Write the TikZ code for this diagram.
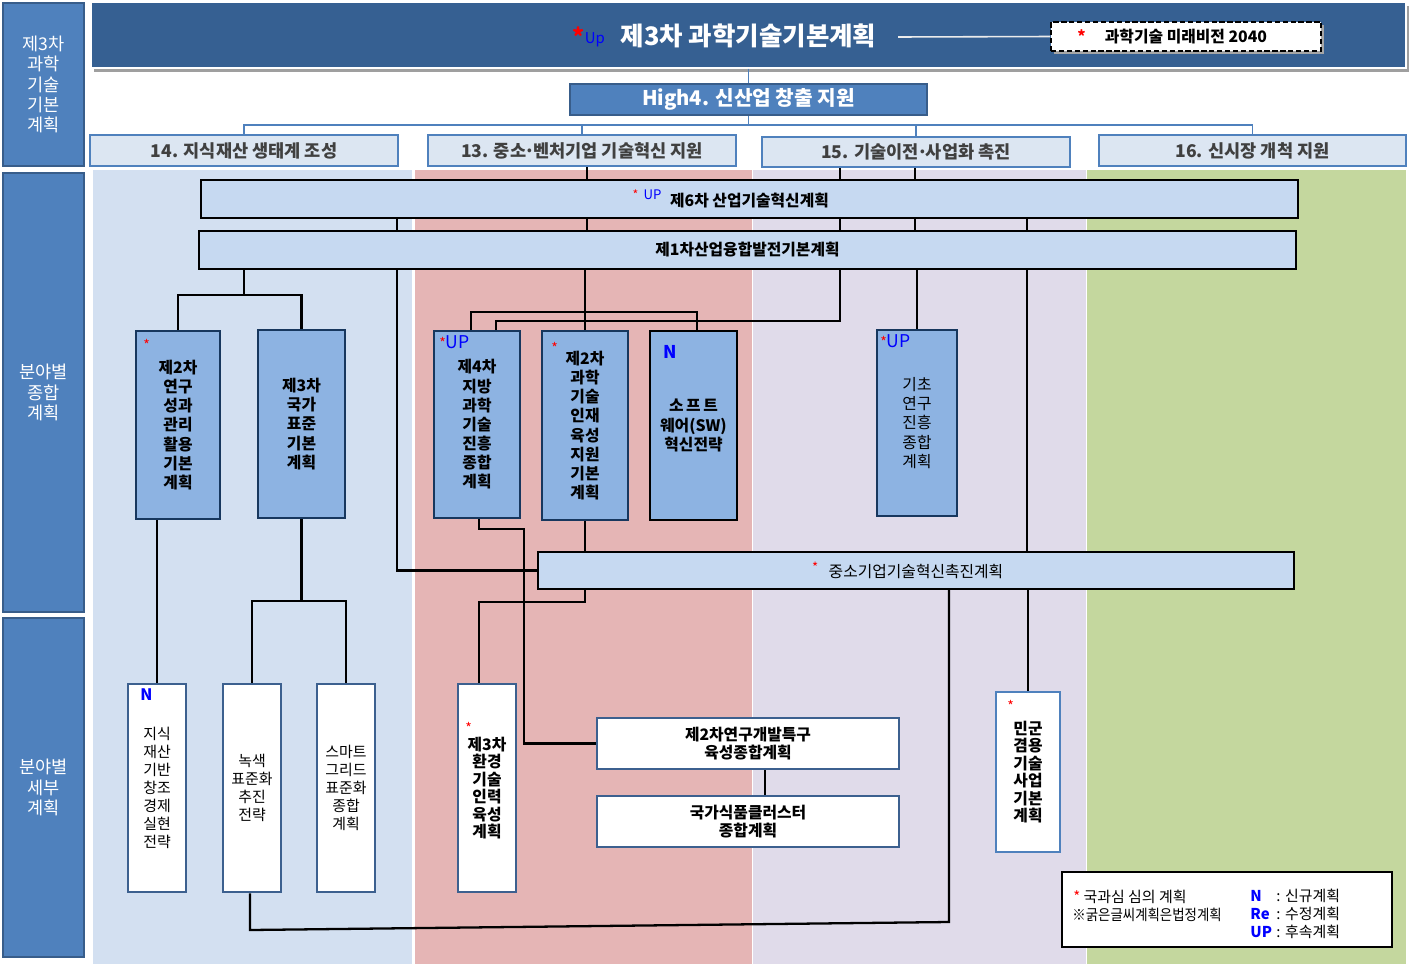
\documentclass[tikz,border=0pt]{standalone}
\usepackage{fontspec}
\setmainfont{Noto Sans CJK KR}
\usepackage{graphicx}
\usetikzlibrary{calc}
\definecolor{banblue}{RGB}{54,96,146}
\definecolor{midblue}{RGB}{79,129,189}
\definecolor{edgeblue}{RGB}{56,93,138}
\definecolor{catfill}{RGB}{220,230,242}
\definecolor{bgblue}{RGB}{211,224,241}
\definecolor{bgpink}{RGB}{229,181,181}
\definecolor{bglav}{RGB}{224,219,234}
\definecolor{bggreen}{RGB}{196,215,158}
\definecolor{barfill}{RGB}{198,217,241}
\definecolor{boxfill}{RGB}{141,179,226}
\definecolor{navy}{RGB}{23,55,94}
\definecolor{subedge}{RGB}{60,96,143}
\def\planbox(#1)[#2](#3,#4)(#5,#6)#7{\node[#2, minimum width={(#5-#3)*0.02cm}, minimum height={(#6-#4)*0.02cm}] (#1) at ({(#3+#5)/2},{(#4+#6)/2}) {#7};}
\def\rstar{\textcolor{red}{\fontsize{8}{8}\selectfont *}}
\def\mdot{\makebox[0.4em]{·}}
\tikzset{
  sidebox/.style={draw=edgeblue, fill=midblue, line width=1.6pt, text=white, align=center, inner sep=0pt, font=\fontsize{10}{11.6}\selectfont},
  catbox/.style={draw=midblue, fill=catfill, line width=1.6pt, text=black!75, inner sep=0pt, font=\bfseries\fontsize{10}{12}\selectfont},
  barbox/.style={draw=black, fill=barfill, line width=1.2pt, inner sep=0pt, font=\fontsize{9}{11}\selectfont},
  midbox/.style={draw=navy, fill=boxfill, line width=1.2pt, align=center, inner sep=0pt, font=\bfseries\fontsize{9}{10.9}\selectfont},
  subbox/.style={draw=subedge, fill=white, line width=1.6pt, align=center, inner sep=0pt, font=\fontsize{8.5}{10.2}\selectfont},
  boldsub/.style={subbox, font=\bfseries\fontsize{9}{10}\selectfont},
  wire/.style={line width=1.3pt, black},
  link/.style={line width=1.1pt, midblue},
  tag/.style={inner sep=0pt, anchor=west, font=\fontsize{10}{12}\selectfont},
}

\begin{document}
\begin{tikzpicture}[x=0.02cm, y=-0.02cm]
		\useasboundingbox (0,0) rectangle (1410,964);
		
		%%%%% columns %%%%%
		\fill[bgblue] (93,170) rectangle (412,964);
		\fill[bgpink] (415,170) rectangle (752,964);
		\fill[bglav] (753,170) rectangle (1086,964);
		\fill[bggreen] (1087,170) rectangle (1406,964);
		
		\planbox(lab1)[sidebox](3,3)(84,166){제3차\\과학\\기술\\기본\\계획}
		\planbox(lab2)[sidebox](3,173)(84,612){분야별\\종합\\계획}
		\planbox(lab3)[sidebox](3,618)(84,957){분야별\\세부\\계획}
		
		%%%%% top %%%%%
		\fill[gray!75] (94,6) rectangle (1409,72);
		\planbox(banner)[draw=white, line width=0.6pt, fill=banblue](91,2)(1406,68){}
		\node[text=white, font=\bfseries\fontsize{14.5}{17}\selectfont] (title) at (748.5,36) {\llap{\textcolor{red}{\fontsize{13}{13}\selectfont *}\raisebox{1pt}{\textcolor{blue}{\mdseries\fontsize{8.5}{9}\selectfont Up}}\hspace{9pt}}제3차 과학기술기본계획};
		\fill[gray!70] (1054,25) rectangle (1324,54);
		\planbox(vis)[draw=black, dash pattern=on 3pt off 1.5pt, line width=1pt, fill=white, inner sep=0pt, font=\bfseries\fontsize{9}{11}\selectfont](1051,22)(1321,51){\llap{\textcolor{red}{*}\hspace{11pt}}과학기술 미래비전 2040}
		\coordinate (tl) at (898,37);
		\draw[white!85!gray, line width=0.9pt] (tl) -- (vis.west);
		
		\planbox(high)[draw=edgeblue, fill=midblue, line width=1.4pt, text=white, inner sep=0pt, font=\bfseries\fontsize{11.5}{13}\selectfont](570,84)(927,115){High4. 신산업 창출 지원}
		
		\planbox(c14)[catbox](90,135)(398,166){14. 지식재산 생태계 조성}
		\planbox(c13)[catbox](428,135)(736,166){13. 중소\mdot 벤처기업 기술혁신 지원}
		\planbox(c15)[catbox](762,137)(1070,167){15. 기술이전\mdot 사업화 촉진}
		\planbox(c16)[catbox](1099,135)(1406,166){16. 신시장 개척 지원}
		
		\draw[link] (banner.south) -- (high.north);
		\draw[link] (high.south) -- (high.south |- 0,125);
		\draw[link] (c14.north) -- (c14.north |- 0,125) -- (c16.north |- 0,125) -- (c16.north);
		\draw[link] (c13.north |- 0,125) -- (c13.north);
		\draw[link] (c15.north |- 0,125) -- (c15.north);
		
		%%%%% plans %%%%%
		\planbox(p6)[barbox, font=\bfseries\fontsize{9}{11}\selectfont](201,180)(1298,218){\llap{\mdseries\raisebox{4pt}{\textcolor{red}{\fontsize{7}{7}\selectfont *}\hspace{3pt}\textcolor{blue}{\fontsize{7.5}{8}\selectfont UP}}\hspace{5pt}}제6차 산업기술혁신계획}
		\planbox(p1)[barbox, font=\bfseries\fontsize{9}{11}\selectfont](199,231)(1296,269){제1차산업융합발전기본계획}
		\planbox(sme)[barbox](538,552)(1294,589){\llap{\raisebox{3pt}{\textcolor{red}{\fontsize{7.5}{8}\selectfont *}}\hspace{6pt}}중소기업기술혁신촉진계획}
		
		\planbox(m1)[midbox](136,331)(220,519){제2차\\연구\\성과\\관리\\활용\\기본\\계획}
		\planbox(m2)[midbox](258,330)(345,518){제3차\\국가\\표준\\기본\\계획}
		\planbox(m3)[midbox](434,331)(520,518){제4차\\지방\\과학\\기술\\진흥\\종합\\계획}
		\planbox(m4)[midbox](542,331)(628,520){제2차\\과학\\기술\\인재\\육성\\지원\\기본\\계획}
		\planbox(m5)[midbox, draw=black](650,331)(737,520){소\,프\,트\\웨어(SW)\\혁신전략}
		\planbox(m6)[midbox, font=\fontsize{9}{11}\selectfont](877,330)(957,516){기초\\연구\\진흥\\종합\\계획}
		
		\planbox(s1)[subbox](128,684)(186,892){지식\\재산\\기반\\창조\\경제\\실현\\전략}
		\planbox(s2)[subbox](223,684)(281,892){녹색\\표준화\\추진\\전략}
		\planbox(s3)[subbox](317,684)(375,892){스마트\\그리드\\표준화\\종합\\계획}
		\planbox(s4)[boldsub](458,684)(516,892){제3차\\환경\\기술\\인력\\육성\\계획}
		\planbox(s5)[boldsub](597,718)(899,769){제2차연구개발특구\\육성종합계획}
		\planbox(s6)[boldsub](597,796)(899,847){국가식품클러스터\\종합계획}
		\planbox(s8)[boldsub, draw=midblue](996,692)(1060,852){민군\\겸용\\기술\\사업\\기본\\계획}
		
		\node[tag] (m1tag) at (143,345) {\rstar};
		\node[tag] (m3tag) at (439,342) {\rstar\textcolor{blue}{UP}};
		\node[tag] (m4tag) at (551,348) {\rstar};
		\node[tag, font=\bfseries\fontsize{10}{12}\selectfont] (m5tag) at (663,352) {\textcolor{blue}{N}};
		\node[tag] (m6tag) at (880,341) {\rstar\textcolor{blue}{UP}};
		\node[tag, font=\bfseries\fontsize{9}{11}\selectfont] (s1tag) at (140,695) {\textcolor{blue}{N}};
		\node[tag] (s4tag) at (465,728) {\rstar};
		\node[tag] (s8tag) at (1007,706) {\rstar};
		
		%%%%% connectors %%%%%
		\draw[wire] (c13.south -| 587,0) -- (p6.north -| 587,0);
		\draw[wire] (c15.south -| 840,0) -- (p6.north -| 840,0);
		\draw[wire] (c15.south -| 915,0) -- (p6.north -| 915,0);
		\foreach \cx in {397,587,840,915,1027}
			\draw[wire] (p6.south -| \cx,0) -- (p1.north -| \cx,0);
		
		\draw[wire] (p1.south -| 244,0) -- (244,295) -| (m1.north);
		\draw[wire] (244,295) -| (m2.north);
		\draw[wire] (p1.south -| 397,0) |- (sme.west);
		\draw[wire] (p1.south -| m4.north) -- (m4.north);
		\draw[wire] (m3.north -| 471,0) -- (471,312) -- (697,312) -- (m5.north -| 697,0);
		\draw[wire] (p1.south -| 840,0) |- (496,321) -- (m3.north -| 496,0);
		\draw[wire] (p1.south -| m6.north) -- (m6.north);
		\draw[wire] (p1.south -| 1027,0) -- (sme.north -| 1027,0);
		\draw[wire] (sme.south -| s8.north) -- (s8.north);
		
		\draw[wire] (m1.south -| s1.north) -- (s1.north);
		\draw[wire] (m2.south) -- (m2.south |- 0,601) -| (s2.north);
		\draw[wire] (m2.south |- 0,601) -| (s3.north);
		\draw[wire] (m3.south -| 479,0) |- (524,529) |- (s5.west);
		\draw[wire] (m4.south) -- (sme.north -| m4.south);
		\draw[wire] (sme.south -| m4.south) |- (479,602) -- (s4.north -| 479,0);
		\draw[wire] (s5.south -| 765,0) -- (s6.north -| 765,0);
		\draw[wire] (s2.south -| 250,0) -- (250,930) -- (949,922) -- (sme.south -| 949,0);
		
		%%%%% legend %%%%%
		\planbox(legend)[draw=black, fill=white, line width=0.8pt](1062,872)(1392,947){}
		\node[tag, font=\fontsize{8.5}{10}\selectfont] (lg1) at (1073,897) {\textcolor{red}{*}\ 국과심 심의 계획};
		\node[tag, font=\fontsize{8.5}{10}\selectfont] (lg2) at (1072,915) {\scalebox{0.9}[1]{※굵은글씨계획은법정계획}};
		\node[tag, font=\fontsize{8.5}{10}\selectfont] (lg3) at (1250,896) {\makebox[1.75em][l]{\textcolor{blue}{\bfseries N}}: 신규계획};
		\node[tag, font=\fontsize{8.5}{10}\selectfont] (lg4) at (1250,914) {\makebox[1.75em][l]{\textcolor{blue}{\bfseries Re}}: 수정계획};
		\node[tag, font=\fontsize{8.5}{10}\selectfont] (lg5) at (1250,932) {\makebox[1.75em][l]{\textcolor{blue}{\bfseries UP}}: 후속계획};
		
\end{tikzpicture}
\end{document}
